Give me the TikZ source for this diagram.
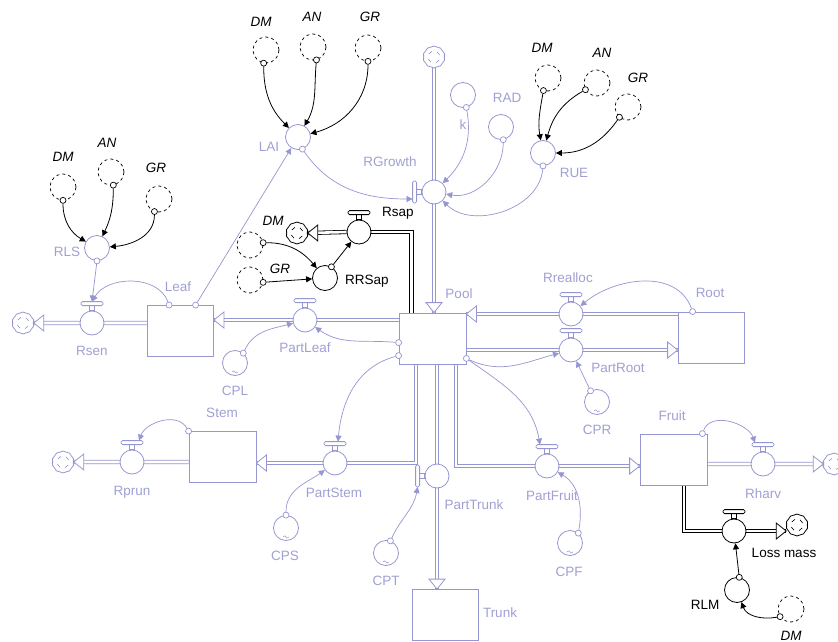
\documentclass[tikz,border=0pt]{standalone}
\usepackage{fontspec}
\setmainfont{Liberation Sans}
\usetikzlibrary{arrows.meta,shapes.symbols,backgrounds,calc}
\definecolor{lav}{RGB}{150,150,210}
\definecolor{lavt}{RGB}{160,160,212}
\tikzset{
  txt/.style={inner sep=0pt, font=\fontsize{13.5}{15}\selectfont},
  lbl/.style={txt, text=lavt},
  blbl/.style={txt, text=black},
  glbl/.style={inner sep=0pt, text=black, font=\fontsize{13.5}{15}\selectfont\itshape},
  stock/.style={draw=lav, line width=0.8pt, fill=white, minimum width=66pt, minimum height=51pt, inner sep=0pt},
  conv/.style={circle, draw=lav, line width=0.8pt, fill=white, minimum size=25pt, inner sep=0pt},
  bconv/.style={conv, draw=black},
  valve/.style={circle, draw=lav, line width=0.8pt, fill=white, minimum size=24pt, inner sep=0pt},
  bvalve/.style={valve, draw=black},
  ghost/.style={circle, draw=black, line width=0.7pt, dash pattern=on 3pt off 3pt, minimum size=26pt, inner sep=0pt},
  pt/.style={circle, draw=lav, line width=0.7pt, fill=white, minimum size=6pt, inner sep=0pt},
  bpt/.style={pt, draw=black},
  cloudn/.style={cloud, cloud puffs=10, cloud puff arc=80, aspect=1, draw=lav, line width=0.8pt, fill=white, minimum width=22pt, minimum height=22pt, inner sep=0pt},
  bcloudn/.style={cloudn, draw=black},
  pipe/.style={draw=lav, line width=0.8pt, double=white, double distance=2.6pt},
  bpipe/.style={draw=black, line width=0.8pt, double=white, double distance=2.6pt},
  conn/.style={draw=lav, line width=0.7pt, -{Triangle[length=6pt,width=6pt]}},
  bconn/.style={draw=black, line width=0.8pt, -{Triangle[length=6pt,width=6pt]}},
  fhead/.pic={\draw[pic actions, fill=white, line width=0.8pt] (0,0) -- (-10,8) -- (-10,-8) -- cycle;},
  handle/.pic={\draw[pic actions, fill=white, line width=0.8pt] (-2.5,0) rectangle (2.5,5);
               \draw[pic actions, fill=white, line width=0.8pt, rounded corners=1.5pt] (-11,5) rectangle (11,9);},
  tilde/.pic={\draw[pic actions, line width=0.5pt] (-3,0) .. controls (-1.5,1.5) and (-0.5,1.5) .. (0,0) .. controls (0.5,-1.5) and (1.5,-1.5) .. (3,0);},
  cdash/.pic={\foreach \a in {20,110,200,290} \draw[pic actions, line width=0.6pt] (\a:6) arc[start angle=\a, end angle=\a+40, radius=6];},
}
\begin{document}
\begin{tikzpicture}[x=1pt,y=1pt]
\useasboundingbox (0,0) rectangle (838,-642);
% ---------- clouds
\node[cloudn] (cTop) at (434,-57) {};
\node[cloudn] (cRsen) at (23,-323) {};
\node[cloudn] (cRprun) at (63,-462) {};
\node[cloudn] (cRharv) at (834,-464) {};
\node[bcloudn] (cDM) at (297,-233) {};
\node[bcloudn] (cLoss) at (797,-525) {};
\foreach \c in {cTop,cRsen,cRprun,cRharv} \pic[draw=lav] at (\c.center) {cdash};
\foreach \c in {cDM,cLoss} \pic[draw=black] at (\c.center) {cdash};
% ---------- stocks
\node[stock] (Leaf) at (180.5,-331) {};
\node[stock, minimum width=67pt] (Pool) at (432.5,-338.5) {};
\node[stock] (Root) at (711,-337.5) {};
\node[stock, minimum width=67pt] (Stem) at (222.5,-457) {};
\node[stock, minimum width=67pt] (Fruit) at (673.5,-459.5) {};
\node[stock] (Trunk) at (445,-615) {};
% ---------- valves
\node[valve] (Rsen) at (92,-323) {};
\node[valve] (PartLeaf) at (305,-320) {};
\node[valve] (Rrealloc) at (571,-314) {};
\node[valve] (PartRoot) at (571,-350) {};
\node[valve] (PartStem) at (335,-463) {};
\node[valve] (Rprun) at (132,-462) {};
\node[valve] (PartTrunk) at (437,-476) {};
\node[valve] (PartFruit) at (547,-466) {};
\node[valve] (Rharv) at (763,-464) {};
\node[valve] (RGrowth) at (434,-192) {};
\node[bvalve] (Rsap) at (359,-232) {};
\node[bvalve] (Loss) at (734,-531) {};
\foreach \v in {Rsen,PartLeaf,Rrealloc,PartRoot,PartStem,Rprun,PartFruit,Rharv} \pic[draw=lav] at (\v.north) {handle};
\pic[draw=lav, rotate=90] at (PartTrunk.west) {handle};
\pic[draw=lav, rotate=90] at (RGrowth.west) {handle};
\pic[draw=black] at (Rsap.north) {handle};
\pic[draw=black] at (Loss.north) {handle};
% ---------- converters
\node[conv] (k) at (463,-95) {};
\node[conv] (RAD) at (501,-127) {};
\node[conv] (RUE) at (543,-153) {};
\node[conv] (LAI) at (298,-137) {};
\node[conv] (RLS) at (97,-248) {};
\node[conv] (CPL) at (235,-363) {};
\node[conv] (CPS) at (286,-528) {};
\node[conv] (CPT) at (386,-553) {};
\node[conv] (CPF) at (570,-543) {};
\node[conv] (CPR) at (597,-402) {};
\node[bconv] (RRSap) at (325,-278) {};
\node[bconv] (RLM) at (737,-590) {};
\foreach \c in {CPL,CPS,CPT,CPF,CPR} \pic[draw=lav] at ($(\c.south)+(0,4)$) {tilde};
% ---------- ghosts
\node[ghost] (gLD) at (266,-50) {};
\node[ghost] (gLA) at (313,-47) {};
\node[ghost] (gLG) at (368,-48) {};
\node[ghost] (gSD) at (63,-187) {};
\node[ghost] (gSA) at (111,-172) {};
\node[ghost] (gSG) at (159,-199) {};
\node[ghost] (gUD) at (548,-78) {};
\node[ghost] (gUA) at (597,-83) {};
\node[ghost] (gUG) at (628,-107) {};
\node[ghost] (gRD) at (250,-245) {};
\node[ghost] (gRG) at (250,-280) {};
\node[ghost] (gMD) at (791,-609) {};
% ---------- pipes
\begin{scope}[on background layer]
\fill[white] (0,0) rectangle (838,-642);
\draw[pipe] (PartLeaf -| Pool.west) -- (PartLeaf -| Leaf.east);
\draw[pipe] (Rsen -| Leaf.west) -- (cRsen.east);
\draw[pipe] (Rrealloc -| Root.west) -- (Rrealloc -| Pool.east);
\draw[pipe] (PartRoot -| Pool.east) -- (PartRoot -| Root.west);
\draw[pipe] (cTop.south) -- (cTop.south |- Pool.north);
\draw[bpipe] ($(Pool.north)+(-21,0)$) |- (Rsap.east);
\draw[bpipe] (Rsap.west) -- (cDM.east);
\draw[pipe] ($(Pool.south)+(-16.5,0)$) |- (PartStem -| Stem.east);
\draw[pipe] (Rprun -| Stem.west) -- (cRprun.east);
\draw[pipe] (PartTrunk |- Pool.south) -- (PartTrunk |- Trunk.north);
\draw[pipe] ($(Pool.south)+(23.5,0)$) |- (PartFruit -| Fruit.west);
\draw[pipe] (Rharv -| Fruit.east) -- (cRharv.west);
\draw[bpipe] ($(Fruit.south)+(10.5,0)$) |- (Loss.west);
\draw[bpipe] (Loss.east) -- (Loss -| cLoss.west);
\end{scope}
% ---------- flow heads
\pic[draw=lav, rotate=180] at (PartLeaf -| Leaf.east) {fhead};
\pic[draw=lav, rotate=180] at (cRsen.east) {fhead};
\pic[draw=lav, rotate=180] at (Rrealloc -| Pool.east) {fhead};
\pic[draw=lav] at (PartRoot -| Root.west) {fhead};
\pic[draw=lav, rotate=-90] at (cTop.south |- Pool.north) {fhead};
\pic[draw=black, rotate=180] at (cDM.east) {fhead};
\pic[draw=lav, rotate=180] at (PartStem -| Stem.east) {fhead};
\pic[draw=lav, rotate=180] at (cRprun.east) {fhead};
\pic[draw=lav, rotate=-90] at (PartTrunk |- Trunk.north) {fhead};
\pic[draw=lav] at (PartFruit -| Fruit.west) {fhead};
\pic[draw=lav] at (cRharv.west) {fhead};
\pic[draw=black] at (Loss -| cLoss.west) {fhead};
% ---------- connection points
\node[pt] (kP) at (k.-75) {};
\node[pt] (radP) at (RAD.-80) {};
\node[pt] (rueP) at (RUE.-90) {};
\node[pt] (laiP) at (LAI.-70) {};
\node[pt] (rlsP) at (RLS.-90) {};
\node[pt] (cplP) at (CPL.50) {};
\node[pt] (cpsP) at (CPS.90) {};
\node[pt] (cptP) at (CPT.70) {};
\node[pt] (cpfP) at (CPF.50) {};
\node[pt] (cprP) at (CPR.120) {};
\node[pt] (leafP1) at ($(Leaf.north west)+(22,0)$) {};
\node[pt] (leafP2) at ($(Leaf.north west)+(48.5,0)$) {};
\node[pt] (poolP1) at ($(Pool.north west)+(0,-30)$) {};
\node[pt] (poolP2) at ($(Pool.north west)+(0,-43)$) {};
\node[pt] (poolP3) at ($(Pool.south east)+(0,6)$) {};
\node[pt] (rootP) at ($(Root.north west)+(15,0)$) {};
\node[pt] (stemP) at (Stem.north west) {};
\node[pt] (fruitP) at ($(Fruit.north east)+(-5,0)$) {};
\node[bpt] (gLDp) at (gLD.-100) {};
\node[bpt] (gLAp) at (gLA.-75) {};
\node[bpt] (gLGp) at (gLG.-90) {};
\node[bpt] (gSDp) at (gSD.-90) {};
\node[bpt] (gSAp) at (gSA.-80) {};
\node[bpt] (gSGp) at (gSG.-110) {};
\node[bpt] (gUDp) at (gUD.-110) {};
\node[bpt] (gUAp) at (gUA.-150) {};
\node[bpt] (gUGp) at (gUG.-130) {};
\node[bpt] (gRDp) at (gRD.10) {};
\node[bpt] (gRGp) at (gRG.-10) {};
\node[bpt] (rrsP) at (RRSap.60) {};
\node[bpt] (rlmP) at (RLM.80) {};
\node[bpt] (gMDp) at (gMD.-145) {};
% handle targets
\coordinate (rgH) at ($(RGrowth.west)+(-9,-7)$);
\coordinate (rsenH) at ($(Rsen.north)+(0,9)$);
\coordinate (psH) at ($(PartStem.north)+(3,9)$);
\coordinate (prH) at ($(Rprun.north)+(7,9)$);
\coordinate (ptH) at ($(PartTrunk.west)+(-7,-11)$);
\coordinate (pfH) at ($(PartFruit.north)+(-7,9)$);
\coordinate (rhH) at ($(Rharv.north)+(-8,9)$);
% ---------- connectors
\draw[bconn] (gLDp) to[out=-90,in=135] (LAI);
\draw[bconn] (gLAp) to[out=-95,in=60] (LAI);
\draw[bconn] (gLGp) to[out=-90,in=15] (LAI);
\draw[bconn] (gSDp) to[out=-90,in=150] (RLS);
\draw[bconn] (gSAp) to[out=-90,in=65] (RLS);
\draw[bconn] (gSGp) to[out=-90,in=5] (RLS);
\draw[bconn] (gUDp) to[out=-100,in=100] (RUE);
\draw[bconn] (gUAp) to[out=-150,in=75] (RUE);
\draw[bconn] (gUGp) to[out=-125,in=0] (RUE);
\draw[bconn] (gRDp) to[out=0,in=130] (RRSap);
\draw[bconn] (gRGp) -- (RRSap);
\draw[bconn] (rrsP) -- (Rsap);
\draw[bconn] (rlmP) -- (Loss);
\draw[bconn] (gMDp) to[out=190,in=-70] (RLM);
\draw[conn] (kP) to[out=-80,in=45] (RGrowth);
\draw[conn] (radP) to[out=-90,in=-10] (RGrowth);
\draw[conn] (rueP) to[out=-95,in=-45] (RGrowth);
\draw[conn] (laiP) to[out=-55,in=180] (rgH);
\draw[conn] (leafP2) -- (LAI);
\draw[conn] (rlsP) -- (rsenH);
\draw[conn] (leafP1) to[out=110,in=60] (rsenH);
\draw[conn] (poolP1) to[out=175,in=-35] (PartLeaf);
\draw[conn] (cplP) to[out=65,in=195] (PartLeaf);
\draw[conn] (poolP2) to[out=195,in=85] (psH);
\draw[conn] (cpsP) to[out=90,in=215] (PartStem);
\draw[conn] (stemP) to[out=120,in=70] (prH);
\draw[conn] (cptP) to[out=65,in=-100] (ptH);
\draw[conn] (poolP3) to[out=-25,in=195] (PartRoot);
\draw[conn] (cprP) -- (PartRoot);
\draw[conn] (poolP3) to[out=-35,in=100] (pfH);
\draw[conn] (cpfP) to[out=80,in=-30] (PartFruit);
\draw[conn] (rootP) to[out=110,in=40] (Rrealloc);
\draw[conn] (fruitP) to[out=70,in=110] (rhH);
% ---------- labels
\node[lbl] (tRG) at (390,-162) {RGrowth};
\node[lbl] (tk) at (463,-125) {k};
\node[lbl] (tRAD) at (507,-98) {RAD};
\node[lbl] (tRUE) at (574,-173) {RUE};
\node[lbl] (tLAI) at (269,-147) {LAI};
\node[lbl] (tRLS) at (67,-252) {RLS};
\node[lbl] (tLeaf) at (178,-287) {Leaf};
\node[lbl] (tRsen) at (92,-351) {Rsen};
\node[lbl] (tPL) at (305,-348) {PartLeaf};
\node[lbl] (tCPL) at (235,-391) {CPL};
\node[lbl] (tPool) at (459,-294) {Pool};
\node[lbl] (tRre) at (568,-278) {Rrealloc};
\node[lbl] (tRoot) at (710,-293) {Root};
\node[lbl] (tPR) at (618,-368) {PartRoot};
\node[lbl] (tCPR) at (597,-430) {CPR};
\node[lbl] (tStem) at (222,-413) {Stem};
\node[lbl] (tRpr) at (132,-492) {Rprun};
\node[lbl] (tPS) at (334,-493) {PartStem};
\node[lbl] (tCPS) at (285,-556) {CPS};
\node[lbl] (tCPT) at (386,-581) {CPT};
\node[lbl] (tPT) at (474,-505) {PartTrunk};
\node[lbl] (tPF) at (552,-496) {PartFruit};
\node[lbl] (tCPF) at (569,-572) {CPF};
\node[lbl] (tFruit) at (672,-416) {Fruit};
\node[lbl] (tRh) at (763,-494) {Rharv};
\node[lbl] (tTrunk) at (500,-613) {Trunk};
\node[blbl] (tRsap) at (398,-213) {Rsap};
\node[blbl] (tRRS) at (367,-281) {RRSap};
\node[blbl] (tLoss) at (784,-553) {Loss mass};
\node[blbl] (tRLM) at (705,-605) {RLM};
\node[glbl] (tgLD) at (261,-22) {DM};
\node[glbl] (tgLA) at (312,-17) {AN};
\node[glbl] (tgLG) at (370,-17) {GR};
\node[glbl] (tgSD) at (63,-157) {DM};
\node[glbl] (tgSA) at (107,-143) {AN};
\node[glbl] (tgSG) at (156,-168) {GR};
\node[glbl] (tgUD) at (542,-48) {DM};
\node[glbl] (tgUA) at (602,-53) {AN};
\node[glbl] (tgUG) at (638,-78) {GR};
\node[glbl] (tgRD) at (273,-221) {DM};
\node[glbl] (tgRG) at (280,-269) {GR};
\node[glbl] (tgMD) at (791,-636) {DM};
\end{tikzpicture}
\end{document}
